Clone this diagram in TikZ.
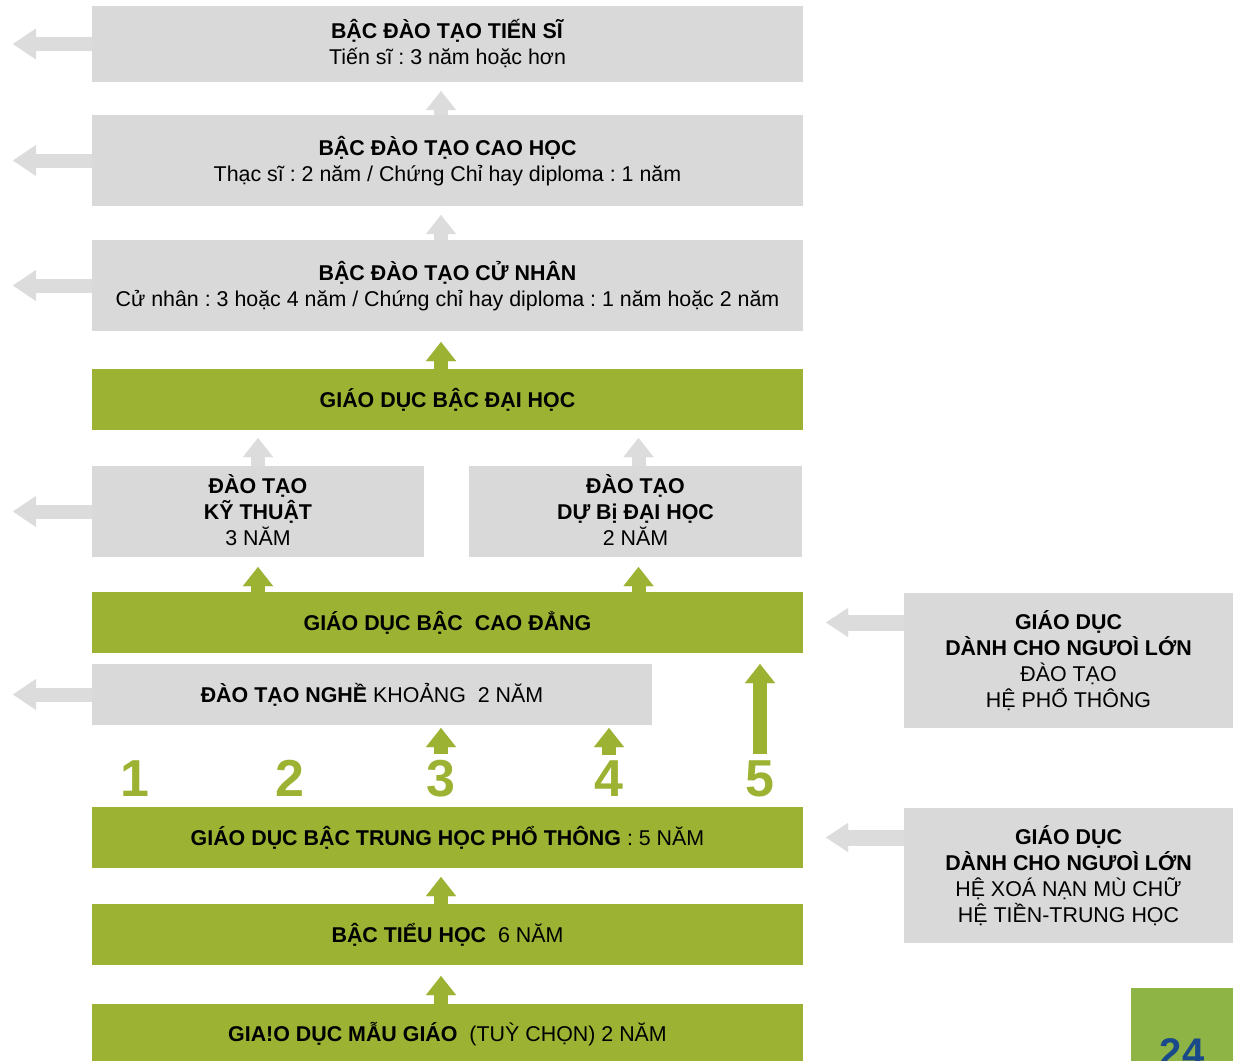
\documentclass[tikz,border=0pt]{standalone}
\usepackage{fontspec}
\setmainfont{Liberation Sans}
\usetikzlibrary{arrows.meta,calc}
\definecolor{boxgray}{HTML}{D9D9D9}
\definecolor{arrgray}{HTML}{DCDCDC}
\definecolor{bargreen}{HTML}{9BB232}
\definecolor{pagegreen}{HTML}{8DB444}
\definecolor{pageblue}{HTML}{1B4A8A}
\newcommand\lst{\rule[-5.5pt]{0pt}{26pt}}
\frenchspacing
\begin{document}
\begin{tikzpicture}[x=1pt,y=-1pt,
  box/.style={anchor=north west, inner sep=0pt, outer sep=0pt, align=center,
    font=\fontsize{21.4}{26}\selectfont},
  graybox/.style={box, fill=boxgray},
  greenbox/.style={box, fill=bargreen},
  uparrG/.style={draw=bargreen, line width=14pt,
    -{Triangle[width=30pt,length=19pt,line width=0.01pt]}},
  uparrW/.style={draw=arrgray, line width=14pt,
    -{Triangle[width=30pt,length=19pt,line width=0.01pt]}},
  leftarr/.style={draw=arrgray, line width=14pt,
    -{Triangle[width=31pt,length=23pt,line width=0.01pt]}},
  rightbox arr/.style={draw=arrgray, line width=16pt,
    -{Triangle[width=29pt,length=22pt,line width=0.01pt]}},
  num/.style={anchor=south, inner sep=0pt, text=bargreen,
    font=\fontsize{52}{52}\selectfont\bfseries}
]
\useasboundingbox (0,0) rectangle (1233,1060);
\clip (0,0) rectangle (1233,1060);

% boxes
\node[graybox, minimum width=711pt, minimum height=76pt] (tien) at (92,6)
  {\lst\textbf{BẬC ĐÀO TẠO TIẾN SĨ}\\ \lst Tiến sĩ : 3 năm hoặc hơn};
\node[graybox, minimum width=711pt, minimum height=91pt] (caohoc) at (92,115)
  {\lst\textbf{BẬC ĐÀO TẠO CAO HỌC}\\ \lst Thạc sĩ : 2 năm / Chứng Chỉ hay diploma : 1 năm};
\node[graybox, minimum width=711pt, minimum height=91pt] (cunhan) at (92,240)
  {\lst\textbf{BẬC ĐÀO TẠO CỬ NHÂN}\\ \lst Cử nhân : 3 hoặc 4 năm / Chứng chỉ hay diploma : 1 năm hoặc 2 năm};
\node[greenbox, minimum width=711pt, minimum height=61pt] (daihoc) at (92,369)
  {\lst\textbf{GIÁO DỤC BẬC ĐẠI HỌC}};
\node[graybox, minimum width=332pt, minimum height=91pt] (kythuat) at (92,466)
  {\lst\textbf{ĐÀO TẠO}\\ \lst\textbf{KỸ THUẬT}\\ \lst 3 NĂM};
\node[graybox, minimum width=333pt, minimum height=91pt] (dubi) at (469,466)
  {\lst\textbf{ĐÀO TẠO}\\ \lst\textbf{DỰ Bị ĐẠI HỌC}\\ \lst 2 NĂM};
\node[greenbox, minimum width=711pt, minimum height=61pt] (caodang) at (92,592)
  {\lst\textbf{GIÁO DỤC BẬC\ \ CAO ĐẲNG}};
\node[graybox, minimum width=560pt, minimum height=61pt] (nghe) at (92,664)
  {\lst\textbf{ĐÀO TẠO NGHỀ} KHOẢNG\ \ 2 NĂM};
\node[greenbox, minimum width=711pt, minimum height=61pt] (trunghoc) at (92,807)
  {\lst\textbf{GIÁO DỤC BẬC TRUNG HỌC PHỔ THÔNG} : 5 NĂM};
\node[greenbox, minimum width=711pt, minimum height=61pt] (tieuhoc) at (92,904)
  {\lst\textbf{BẬC TIỂU HỌC}\ \ 6 NĂM};
\node[greenbox, minimum width=711pt, minimum height=60pt] (maugiao) at (92,1004)
  {\lst\textbf{GIA!O DỤC MẪU GIÁO}\ \ (TUỲ CHỌN) 2 NĂM};
\node[graybox, minimum width=329pt, minimum height=135pt] (adult1) at (904,593)
  {\lst\textbf{GIÁO DỤC}\\ \lst\textbf{DÀNH CHO NGƯOÌ LỚN}\\ \lst ĐÀO TẠO\\ \lst HỆ PHỔ THÔNG};
\node[graybox, minimum width=329pt, minimum height=135pt] (adult2) at (904,808)
  {\lst\textbf{GIÁO DỤC}\\ \lst\textbf{DÀNH CHO NGƯOÌ LỚN}\\ \lst HỆ XOÁ NẠN MÙ CHỮ\\ \lst HỆ TIỀN-TRUNG HỌC};
\node[box, fill=pagegreen, minimum width=102pt, minimum height=92pt] (pg) at (1131,988) {};
\node[anchor=base, inner sep=0pt, text=pageblue, font=\fontsize{40}{40}\selectfont\bfseries]
  (pgnum) at (1182,1066) {24};

% numbers
\node[num] (n1) at (135,797) {1};
\node[num] (n2) at (290,797) {2};
\node[num] (n3) at (441,797) {3};
\node[num] (n4) at (609,797) {4};
\node[num] (n5) at (760,797) {5};

% up arrows
\draw[uparrW] ($(caohoc.north)+(-6.5,0)$) -- ($(tien.south)+(-6.5,9)$);
\draw[uparrW] ($(cunhan.north)+(-6.5,0)$) -- ($(caohoc.south)+(-6.5,9)$);
\draw[uparrG] ($(daihoc.north)+(-6.5,0)$) -- ($(cunhan.south)+(-6.5,11)$);
\draw[uparrW] (kythuat.north) -- ($(kythuat.north |- daihoc.south)+(0,8)$);
\draw[uparrW] ($(dubi.north)+(3,0)$) -- ($(dubi.north |- daihoc.south)+(3,8)$);
\draw[uparrG] (caodang.north -| kythuat.north) -- ($(kythuat.south)+(0,10)$);
\draw[uparrG] ($(caodang.north -| dubi.north)+(3,0)$) -- ($(dubi.south)+(3,10)$);
\draw[uparrG] ($(n3.north)+(0,-6)$) -- ($(n3.north |- nghe.south)+(0,3)$);
\draw[uparrG] ($(n4.north)+(0,-6)$) -- ($(n4.north |- nghe.south)+(0,3)$);
\draw[uparrG] ($(n5.north)+(0,-6)$) -- ($(n5.north |- caodang.south)+(0,11)$);
\draw[uparrG] ($(tieuhoc.north)+(-6.5,0)$) -- ($(trunghoc.south)+(-6.5,9)$);
\draw[uparrG] ($(maugiao.north)+(-6.5,0)$) -- ($(tieuhoc.south)+(-6.5,11)$);

% left arrows
\draw[leftarr] (tien.west) -- ++(-79,0);
\draw[leftarr] (caohoc.west) -- ++(-79,0);
\draw[leftarr] (cunhan.west) -- ++(-79,0);
\draw[leftarr] (kythuat.west) -- ++(-79,0);
\draw[leftarr] (nghe.west) -- ++(-79,0);

% right-side arrows
\draw[rightbox arr] (adult1.west |- caodang.east) -- ($(caodang.east)+(23,0)$);
\draw[rightbox arr] (adult2.west |- trunghoc.east) -- ($(trunghoc.east)+(23,0)$);
\end{tikzpicture}
\end{document}
